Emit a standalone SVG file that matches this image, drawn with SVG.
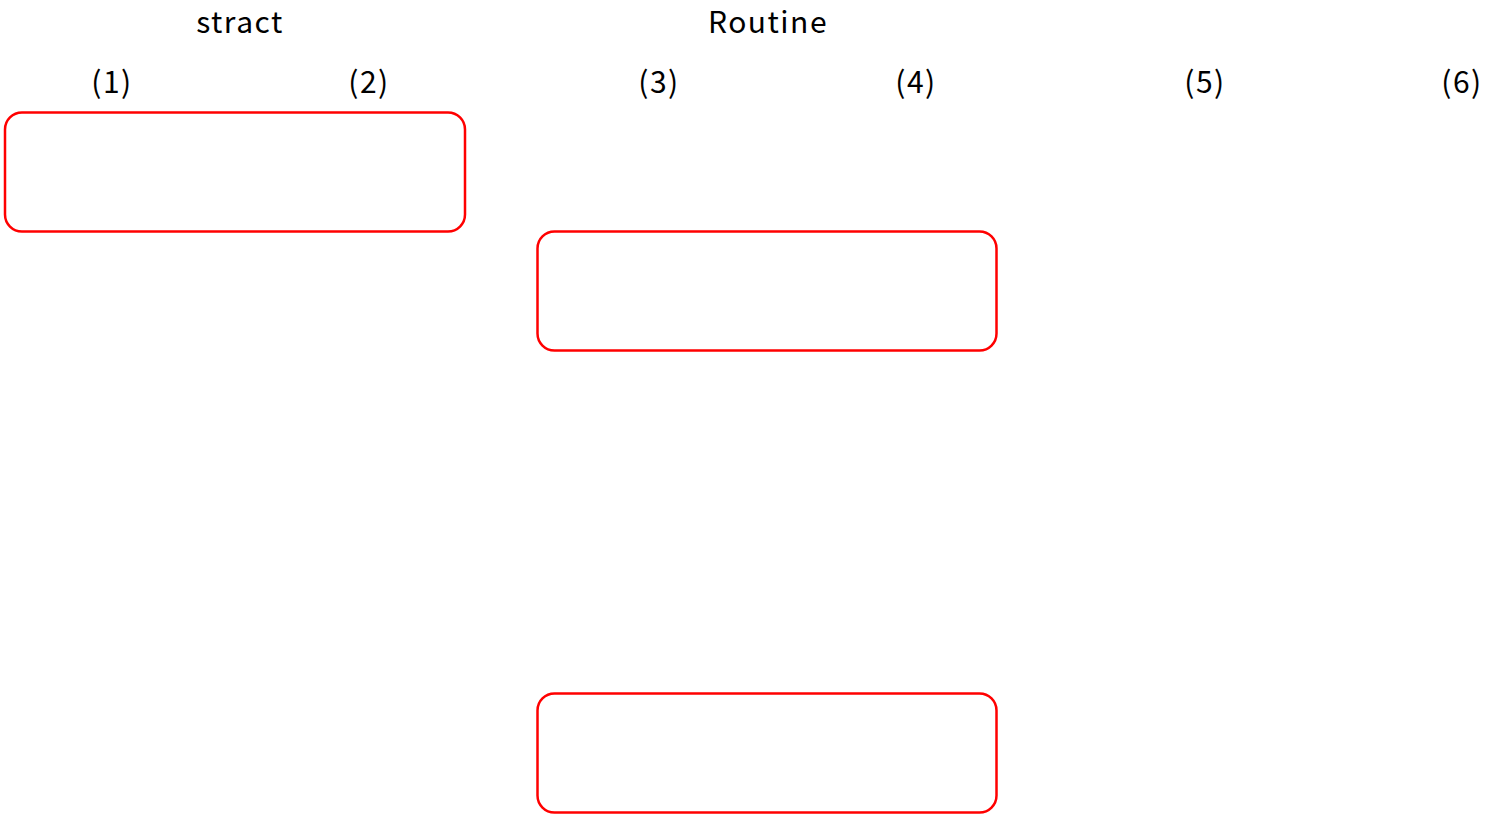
<svg xmlns="http://www.w3.org/2000/svg" width="1486" height="814" viewBox="0 0 1486 814">
<style>
.t{font-family:"Noto Sans CJK JP","Noto Sans",sans-serif;font-size:30px;font-weight:400;letter-spacing:1.5px;fill:#000;text-anchor:middle}
.b{fill:#fff;stroke:#ff0000;stroke-width:2.5}
</style>
<rect width="1486" height="814" fill="#fff"/>
<g id="titles">
<text class="t" x="240" y="33">stract</text>
<text class="t" x="768" y="33">Routine</text>
</g>
<g id="labels">
<text class="t" x="112" y="93">(1)</text>
<text class="t" x="369" y="93">(2)</text>
<text class="t" x="659" y="93">(3)</text>
<text class="t" x="916" y="93">(4)</text>
<text class="t" x="1205" y="93">(5)</text>
<text class="t" x="1462" y="93">(6)</text>
</g>
<g id="box1"><rect class="b" x="5" y="112.5" width="460" height="119" rx="17"/></g>
<g id="box2"><rect class="b" x="537.5" y="231.5" width="459" height="119" rx="17"/></g>
<g id="box3"><rect class="b" x="537.5" y="693.5" width="459" height="119" rx="17"/></g>
<g id="connectors"></g>
</svg>
